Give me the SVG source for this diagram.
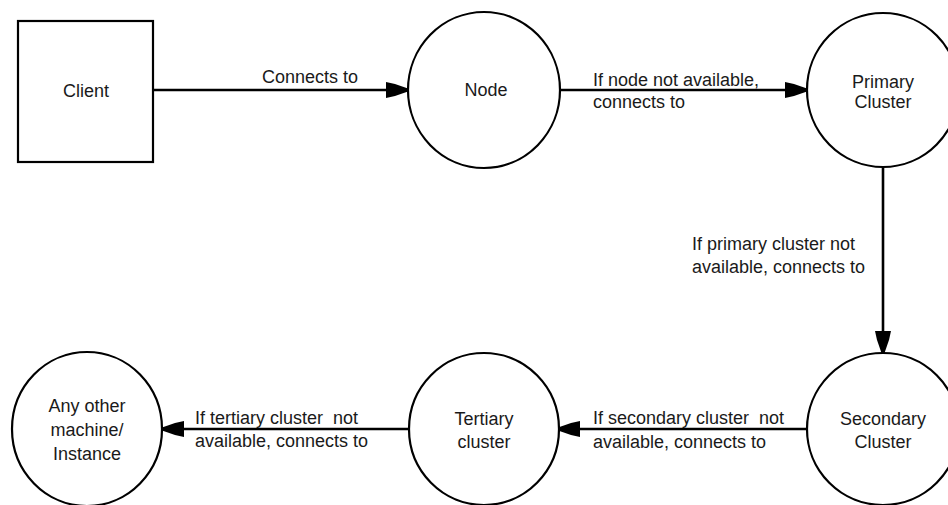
<svg xmlns="http://www.w3.org/2000/svg" width="948" height="505" viewBox="0 0 948 505">
<style>
.shape{fill:#fff;stroke:#000;stroke-width:2.2}
.lbl{font-family:"Liberation Sans",Arial,sans-serif;font-size:18px;fill:#1a1a1a}
.mid{text-anchor:middle}
.conn{stroke:#000;stroke-width:2.6;fill:none}
</style>
<defs>
<marker id="ah" markerUnits="userSpaceOnUse" markerWidth="24" markerHeight="18" viewBox="0 -9 24 18" refX="22" refY="0" orient="auto">
<path d="M0,-8 L9,-6 L22,-1.5 L22,1.5 L9,6 L0,8 Z" fill="#000"/>
</marker>
</defs>
<rect width="948" height="505" fill="#fff"/>
<g id="connectors">
<line class="conn" x1="153" y1="90" x2="408" y2="90" marker-end="url(#ah)"/>
<line class="conn" x1="560" y1="90" x2="807" y2="90" marker-end="url(#ah)"/>
<line class="conn" x1="883" y1="168" x2="883" y2="353" marker-end="url(#ah)"/>
<line class="conn" x1="807" y1="429" x2="558" y2="429" marker-end="url(#ah)"/>
<line class="conn" x1="409" y1="429" x2="162" y2="429" marker-end="url(#ah)"/>
<text class="lbl" x="262" y="83">Connects to</text>
<text class="lbl" x="593" y="86">If node not available,</text>
<text class="lbl" x="593" y="108">connects to</text>
<text class="lbl" x="692" y="250">If primary cluster not</text>
<text class="lbl" x="692" y="273">available, connects to</text>
<text class="lbl" x="593" y="424" xml:space="preserve">If secondary cluster  not</text>
<text class="lbl" x="593" y="448">available, connects to</text>
<text class="lbl" x="195" y="424" xml:space="preserve">If tertiary cluster  not</text>
<text class="lbl" x="195" y="447">available, connects to</text>
</g>
<g id="client">
<rect class="shape" x="18" y="21" width="135" height="141" stroke-width="2.6"/>
<text class="lbl mid" x="86" y="97">Client</text>
</g>
<g id="node">
<ellipse class="shape" cx="484" cy="90" rx="76" ry="78"/>
<text class="lbl mid" x="486" y="96">Node</text>
</g>
<g id="primary">
<ellipse class="shape" cx="883" cy="90" rx="76" ry="77"/>
<text class="lbl mid" x="883" y="88">Primary</text>
<text class="lbl mid" x="883" y="108">Cluster</text>
</g>
<g id="secondary">
<ellipse class="shape" cx="883" cy="429" rx="76" ry="76"/>
<text class="lbl mid" x="883" y="425">Secondary</text>
<text class="lbl mid" x="883" y="448">Cluster</text>
</g>
<g id="tertiary">
<ellipse class="shape" cx="484" cy="429" rx="75" ry="76"/>
<text class="lbl mid" x="484" y="425">Tertiary</text>
<text class="lbl mid" x="484" y="448">cluster</text>
</g>
<g id="other">
<ellipse class="shape" cx="87" cy="429" rx="75" ry="77"/>
<text class="lbl mid" x="87" y="412">Any other</text>
<text class="lbl mid" x="87" y="436">machine/</text>
<text class="lbl mid" x="87" y="460">Instance</text>
</g>
</svg>
